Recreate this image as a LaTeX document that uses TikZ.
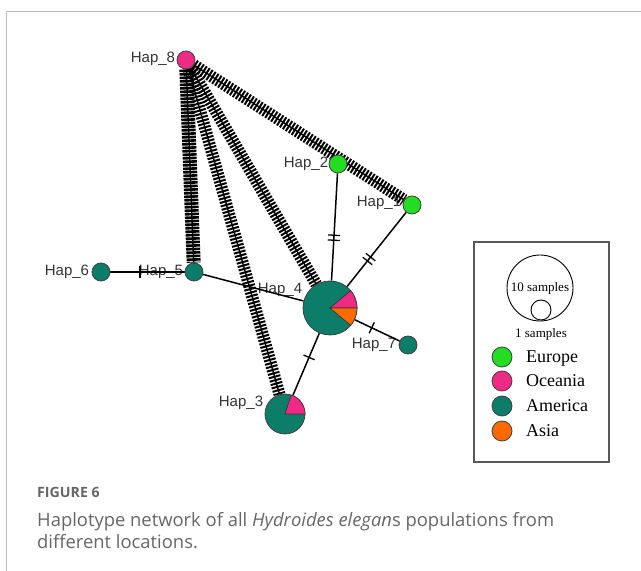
\documentclass[tikz,border=0pt]{standalone}
\usepackage{fontspec}
\setmainfont{Liberation Serif}
\newfontfamily\labfont{Liberation Sans}
\newfontfamily\capfont{Open Sans}
\usetikzlibrary{decorations.markings}
\pgfdeclarelayer{labels}
\pgfdeclarelayer{edges}
\pgfsetlayers{labels,edges,main}
\definecolor{hpink}{HTML}{EE2A85}
\definecolor{hgreen}{HTML}{22DD22}
\definecolor{hteal}{HTML}{0B7D68}
\definecolor{horange}{HTML}{FF6A00}
\definecolor{framegray}{HTML}{BBBBBB}
\definecolor{capgray}{HTML}{666666}
\tikzset{
  hap/.style={circle, draw=black!75, line width=0.8pt, inner sep=0pt, minimum size=18pt},
  haplab/.style={font=\labfont\fontsize{15}{15}\selectfont, text=black!80, inner sep=0pt},
  hatch/.style={line width=12pt, dash pattern=on 2pt off 1.5pt},
  densehatch/.style={line width=14pt, dash pattern=on 2.6pt off 0.9pt},
  spine/.style={line width=1.4pt},
  link/.style={line width=1.5pt},
  onetick/.style={postaction={decorate}, decoration={markings,
    mark=at position #1 with {\draw[line width=1.3pt] (0,-6pt)--(0,6pt);}}},
  twotick/.style={postaction={decorate}, decoration={markings,
    mark=at position #1 with {\draw[line width=1.3pt] (-2.5pt,-6pt)--(-2.5pt,6pt) (2.5pt,-6pt)--(2.5pt,6pt);}}},
  legdot/.style={circle, draw=black!75, line width=0.8pt, inner sep=0pt, minimum size=20pt},
  legtext/.style={font=\fontsize{18}{18}\selectfont, inner sep=0pt, anchor=base west},
  smalltext/.style={font=\fontsize{13}{13}\selectfont, inner sep=0pt},
  wedge/.style={draw=black!80, line width=0.6pt},
  captext/.style={anchor=base west, inner sep=0pt, text=capgray, font=\capfont\fontsize{18.4}{18.4}\selectfont}
}
\begin{document}
\begin{tikzpicture}[x=1pt,y=1pt]
\useasboundingbox (0,0) rectangle (641,571);
\draw[framegray, line width=1pt] (6,0) -- (6,559) -- (641,559);

% haplotype nodes
\node[hap, fill=hpink] (h8) at (186,511) {};
\node[hap, fill=hgreen] (h2) at (338,407) {};
\node[hap, fill=hgreen] (h1) at (412,366) {};
\node[hap, fill=hteal] (h6) at (101,299) {};
\node[hap, fill=hteal] (h5) at (194,299) {};
\node[hap, fill=hteal, minimum size=54pt] (h4) at (330,263) {};
\node[hap, fill=hteal] (h7) at (408,226) {};
\node[hap, fill=hteal, minimum size=40pt] (h3) at (285,157) {};

% pie wedges
\filldraw[wedge, fill=hpink] (h4.center) -- ++(0:27pt) arc (0:40:27pt) -- cycle;
\filldraw[wedge, fill=horange] (h4.center) -- ++(0:27pt) arc (0:-40:27pt) -- cycle;
\filldraw[wedge, fill=hpink] (h3.center) -- ++(0:20pt) arc (0:72:20pt) -- cycle;

% labels
\begin{pgfonlayer}{labels}
\node[haplab] (l8) at (153,512) {Hap\_8};
\node[haplab] (l2) at (306,407) {Hap\_2};
\node[haplab] (l1) at (379,368) {Hap\_1};
\node[haplab] (l6) at (67,299) {Hap\_6};
\node[haplab] (l5) at (161,299) {Hap\_5};
\node[haplab] (l4) at (280,281) {Hap\_4};
\node[haplab] (l7) at (374,226) {Hap\_7};
\node[haplab] (l3) at (241,168) {Hap\_3};
\end{pgfonlayer}

% edges
\begin{pgfonlayer}{edges}
\draw[densehatch] (h8) -- (h5);
\draw[spine] (h8) -- (h5);
\draw[hatch] (h8) -- (h3);
\draw[spine] (h8) -- (h3);
\draw[hatch] (h8) -- (h4);
\draw[spine] (h8) -- (h4);
\draw[hatch] (h8) -- (h1);
\draw[spine] (h8) -- (h1);
\draw[link, twotick=0.6] (h2) -- (h4);
\draw[link, twotick=0.63] (h1) -- (h4);
\draw[link, onetick=0.38] (h4) -- (h7);
\draw[link, onetick=0.39] (h4) -- (h3);
\draw[link, onetick=0.4] (h6) -- (h5);
\draw[link] (h5) -- (h4);
\end{pgfonlayer}

% legend
\node[draw=black!65, line width=1.2pt, minimum width=135pt, minimum height=220pt, inner sep=0pt] (legend) at (541.5,219) {};
\node[circle, draw=black, line width=0.9pt, minimum size=66pt, inner sep=0pt] (big) at (540,283) {};
\node[smalltext] (bigtext) at (540,283) {10 samples};
\node[circle, draw=black, line width=0.9pt, minimum size=20pt, inner sep=0pt] (small) at (541,261) {};
\node[smalltext] (smalltext) at (541,237) {1 samples};
\node[legdot, fill=hgreen] (d1) at (502,214) {};
\node[legdot, fill=hpink] (d2) at (502,190) {};
\node[legdot, fill=hteal] (d3) at (502,165) {};
\node[legdot, fill=horange] (d4) at (502,140) {};
\node[legtext] (t1) at (526,208) {Europe};
\node[legtext] (t2) at (526,184) {Oceania};
\node[legtext] (t3) at (526,159) {America};
\node[legtext] (t4) at (526,134) {Asia};

% caption
\node[anchor=base west, inner sep=0pt, text=capgray, font=\capfont\bfseries\fontsize{14.2}{14.2}\selectfont] (fig) at (37,73) {FIGURE 6};
\node[captext] (cap1) at (37,44) {Haplotype network of all \textit{Hydroides elegan}s populations from};
\node[captext] (cap2) at (37,22) {different locations.};
\end{tikzpicture}
\end{document}
